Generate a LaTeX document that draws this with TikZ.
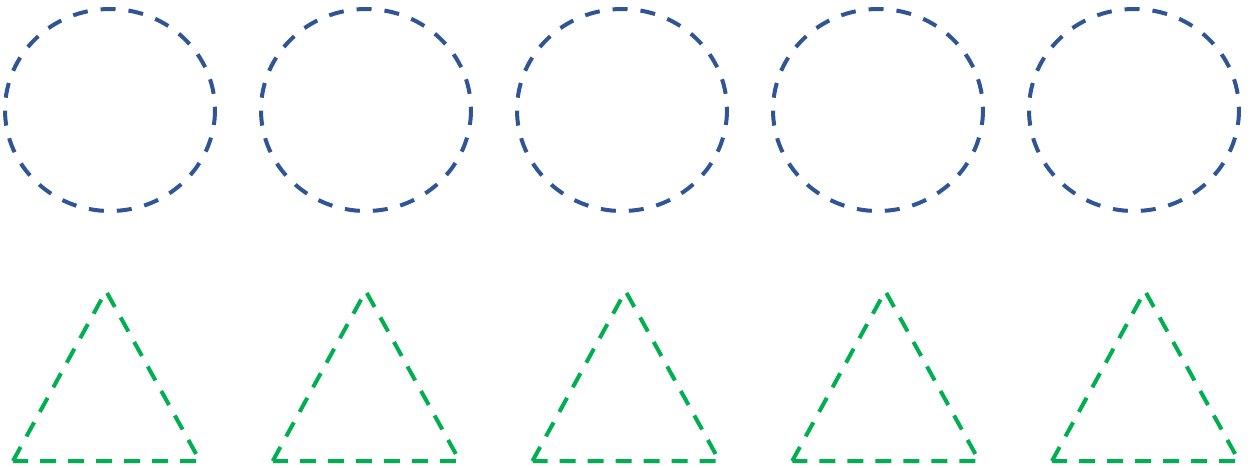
\documentclass[tikz,border=0pt]{standalone}
\definecolor{ringblue}{HTML}{2F5597}
\definecolor{trigreen}{HTML}{00B050}
\tikzset{
  ring/.style={draw=ringblue, line width=4pt, dash pattern=on 15pt off 13pt},
  tri/.style={draw=trigreen, line width=4pt, dash pattern=on 16pt off 12pt}
}
\begin{document}
\begin{tikzpicture}[x=1pt,y=-1pt]
    % Fix the canvas size
    \useasboundingbox (0,0) rectangle (1251,467);

    % Top row: dashed circles
    \foreach \i in {0,...,4} {
        \draw[ring] (110+256*\i,110) ellipse (105 and 101);
    }

    % Bottom row: dashed triangles
    \foreach \i in {0,...,4} {
        \draw[tri] (13+259.75*\i,461) -- (106+259.75*\i,291) -- (200+259.75*\i,461) -- cycle;
    }
\end{tikzpicture}
\end{document}
